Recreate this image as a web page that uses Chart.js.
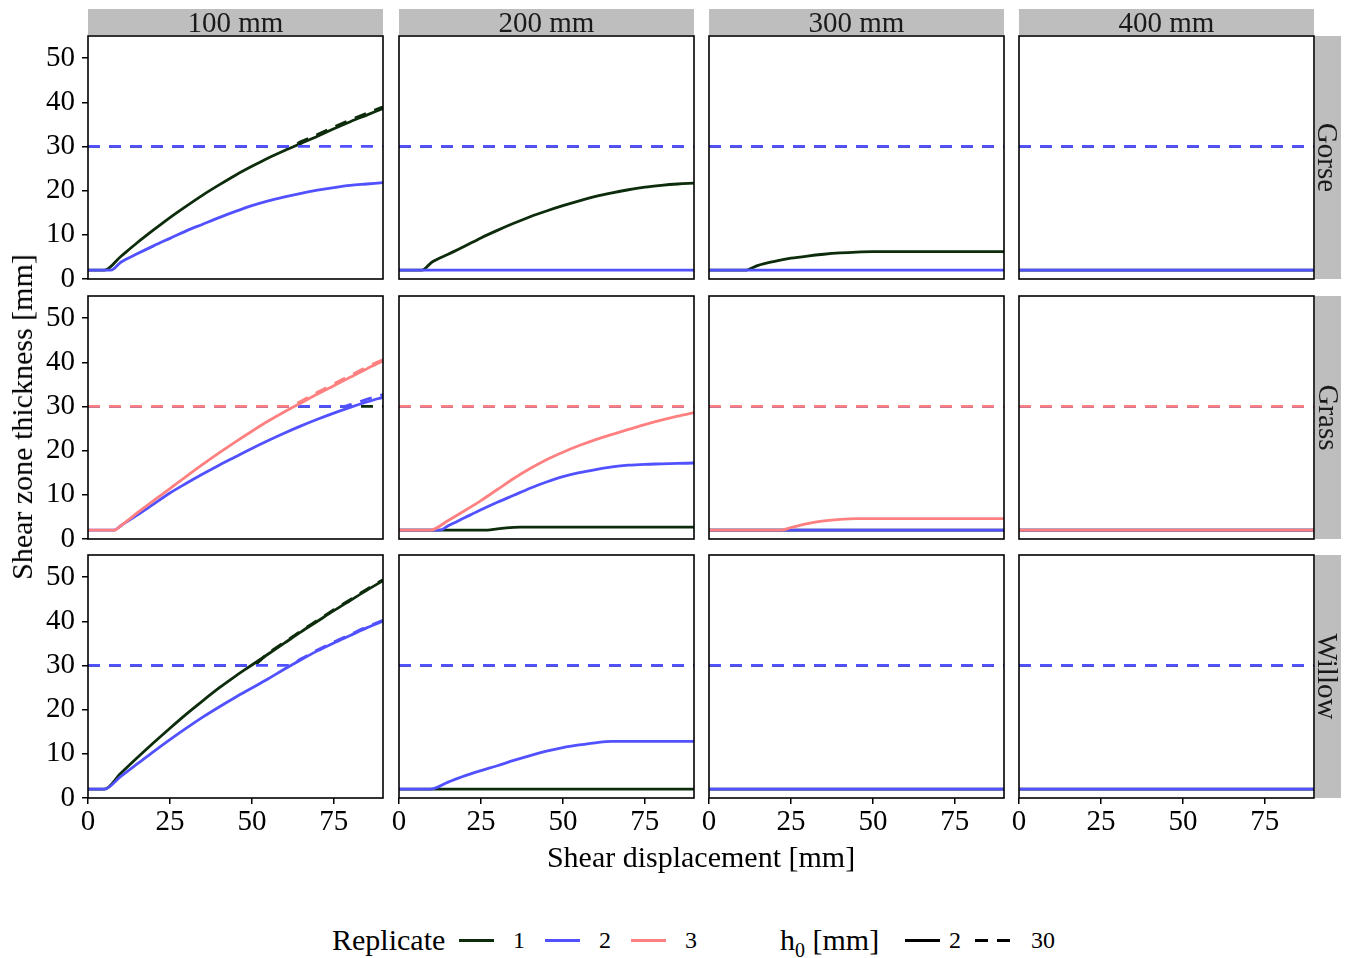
<!DOCTYPE html>
<html>
<head>
<meta charset="utf-8">
<script src="https://cdn.jsdelivr.net/npm/chart.js@4.4.1/dist/chart.umd.min.js"></script>
<style>
  body { margin: 0; background: #fff; font-family: 'Liberation Serif', 'DejaVu Serif', serif; }
  #wrap { position: relative; width: 1348px; height: 958px; overflow: hidden; }
  #wrap canvas { position: absolute; }
  .strip { position: absolute; background: #bebebe; color: #1a1a1a; font-size: 29px;
           display: flex; align-items: center; justify-content: center; white-space: nowrap; }
  .strip.side span { transform: rotate(90deg); display: block; }
  .title { position: absolute; font-size: 30px; color: #000; white-space: nowrap; }
  #legend { position: absolute; left: 0; top: 920px; width: 1348px; height: 40px; }
  #legend span { position: absolute; top: 0; height: 40px; line-height: 40px; white-space: nowrap; }
  #legend .key { top: 19px; height: 3px; width: 35px; }
</style>
</head>
<body>
<div id="wrap"></div>
<script>
// facets and ticks
const widthLabels = ['100 mm', '200 mm', '300 mm', '400 mm'];
const speciesLabels = ['Gorse', 'Grass', 'Willow'];
const xTicks = [0, 25, 50, 75];
const yTicks = [0, 10, 20, 30, 40, 50];
const replicates = ['1', '2', '3'];
const h0Levels = ['2', '30'];
const repColors = ['#0c2c0c', '#5151ff', '#ff8080'];

// [shear displacement, shear zone thickness]
const flat2 = [[0, 2], [90, 2]];
const flat30 = [[0, 30], [90, 30]];

// Gorse
const gorse100r1 = [[0,2],[5,2],[10,5.1],[15,8.2],[20,11.1],[25,13.9],[30,16.5],[35,19],[40,21.3],[45,23.5],[50,25.5],[55,27.4],[60,29.1],[65,30.7],[70,32.3],[75,34],[80,35.6],[85,37.1],[90,38.6]];
const gorse100r1h30 = [[0,30],[62,30],[65,31.1],[70,32.7],[75,34.4],[80,36],[85,37.5],[90,39]];
const gorse100r2 = [[0,2],[7,2],[10,3.8],[15,5.7],[20,7.5],[25,9.2],[30,10.9],[35,12.4],[40,13.9],[45,15.3],[50,16.6],[55,17.7],[60,18.6],[65,19.4],[70,20.1],[75,20.7],[80,21.2],[85,21.5],[90,21.8]];
const gorse200r1 = [[0,2],[7,2],[10,3.8],[15,5.6],[20,7.4],[25,9.3],[30,11],[35,12.6],[40,14.1],[45,15.4],[50,16.6],[55,17.7],[60,18.7],[65,19.5],[70,20.2],[75,20.8],[80,21.2],[85,21.5],[90,21.7]];
const gorse300r1 = [[0,2],[11,2],[15,3.1],[20,4],[25,4.7],[30,5.2],[35,5.6],[40,5.9],[45,6.1],[50,6.2],[90,6.2]];

// Grass
const grass100r2 = [[0,2],[8,2],[10,3],[15,5.4],[20,7.9],[25,10.4],[30,12.6],[35,14.7],[40,16.7],[45,18.6],[50,20.5],[55,22.3],[60,24],[65,25.6],[70,27.1],[75,28.5],[80,29.8],[85,31],[90,32.1]];
const grass100r2h30 = [[0,30],[78,30],[80,30.4],[85,31.6],[90,32.7]];
const grass100r3 = [[0,2],[8,2],[10,3],[15,5.9],[20,8.7],[25,11.4],[30,14.2],[35,16.9],[40,19.5],[45,22],[50,24.4],[55,26.7],[60,28.8],[65,30.8],[70,32.8],[75,34.7],[80,36.6],[85,38.5],[90,40.3]];
const grass100r3h30 = [[0,30],[61,30],[65,31.2],[70,33.2],[75,35.1],[80,37],[85,38.9],[90,40.6]];
const grass200r1 = [[0,2],[27,2],[30,2.3],[35,2.65],[37,2.7],[90,2.7]];
const grass200r2 = [[0,2],[12.5,2],[15,3],[20,4.8],[25,6.6],[30,8.3],[35,9.9],[40,11.5],[45,12.9],[50,14.1],[55,15],[60,15.7],[65,16.3],[70,16.7],[75,16.9],[80,17],[85,17.1],[90,17.2]];
const grass200r3 = [[0,2],[9.5,2],[15,4.2],[20,6.4],[25,8.7],[30,11.2],[35,13.7],[40,15.95],[45,17.95],[50,19.65],[55,21.15],[60,22.5],[65,23.7],[70,24.8],[75,25.9],[80,26.9],[85,27.8],[90,28.6]];
const grass300r3 = [[0,2],[22,2],[25,2.6],[30,3.5],[35,4.1],[40,4.45],[45,4.6],[90,4.6]];

// Willow
const willow100r1 = [[0,2],[5,2],[10,5.6],[15,9.1],[20,12.5],[25,15.8],[30,19],[35,22],[40,24.9],[45,27.6],[50,30.1],[55,32.6],[60,35.1],[65,37.6],[70,40],[75,42.4],[80,44.7],[85,47],[90,49.2]];
const willow100r1h30 = [[0,30],[50,30],[55,32.8],[60,35.3],[65,37.8],[70,40.2],[75,42.6],[80,44.9],[85,47.2],[90,49.4]];
const willow100r2 = [[0,2],[5,2],[10,4.9],[15,7.7],[20,10.5],[25,13.2],[30,15.8],[35,18.3],[40,20.6],[45,22.8],[50,24.9],[55,27],[60,29.2],[65,31.3],[70,33.3],[75,35.1],[80,36.8],[85,38.5],[90,40]];
const willow100r2h30 = [[0,30],[61,30],[65,31.5],[70,33.5],[75,35.3],[80,37],[85,38.7],[90,40.2]];
const willow200r2 = [[0,2],[9.5,2],[15,3.6],[20,5],[25,6.2],[30,7.3],[35,8.5],[40,9.6],[45,10.6],[50,11.4],[55,12],[60,12.5],[65,12.8],[90,12.8]];

// [replicate index, h0 index, data] per panel, rows = species, cols = width
const panels = [
  [
    [[0,0,gorse100r1],[0,1,gorse100r1h30],[1,0,gorse100r2],[1,1,flat30]],
    [[0,0,gorse200r1],[0,1,flat30],[1,0,flat2],[1,1,flat30]],
    [[0,0,gorse300r1],[0,1,flat30],[1,0,flat2],[1,1,flat30]],
    [[0,0,flat2],[0,1,flat30],[1,0,flat2],[1,1,flat30]]
  ],
  [
    [[0,1,flat30],[1,0,grass100r2],[1,1,grass100r2h30],[2,0,grass100r3],[2,1,grass100r3h30]],
    [[0,0,grass200r1],[0,1,flat30],[1,0,grass200r2],[1,1,flat30],[2,0,grass200r3],[2,1,flat30]],
    [[0,0,flat2],[0,1,flat30],[1,0,flat2],[1,1,flat30],[2,0,grass300r3],[2,1,flat30]],
    [[0,0,flat2],[0,1,flat30],[1,0,flat2],[1,1,flat30],[2,0,flat2],[2,1,flat30]]
  ],
  [
    [[0,0,willow100r1],[0,1,willow100r1h30],[1,0,willow100r2],[1,1,willow100r2h30]],
    [[0,0,flat2],[0,1,flat30],[1,0,willow200r2],[1,1,flat30]],
    [[0,0,flat2],[0,1,flat30],[1,0,flat2],[1,1,flat30]],
    [[0,0,flat2],[0,1,flat30],[1,0,flat2],[1,1,flat30]]
  ]
];

const FONT = "'Liberation Serif', 'DejaVu Serif', serif";
const W = 295, H = 243;
const colLeft = [88, 399, 709, 1019];
const rowTop = [36, 296, 555];
const wrap = document.getElementById('wrap');

const boxPlugin = {
  id: 'box',
  afterDatasetsDraw(chart) {
    const a = chart.chartArea, ctx = chart.ctx;
    ctx.save();
    ctx.strokeStyle = '#000';
    ctx.lineWidth = 1.6;
    ctx.strokeRect(a.left, a.top, a.right - a.left, a.bottom - a.top);
    ctx.restore();
  }
};

function axisOpts(show, min, max, ticks, pad, fit) {
  const o = {
    type: 'linear', min: min, max: max, display: show,
    afterBuildTicks: s => { s.ticks = ticks.map(v => ({ value: v })); },
    grid: { drawOnChartArea: false, drawTicks: true, tickLength: 6, color: '#000', lineWidth: 1.5 },
    border: { display: false },
    ticks: { font: { family: FONT, size: 29 }, color: '#000', padding: pad, maxRotation: 0, autoSkip: false }
  };
  if (show) o.afterFit = s => {
    fit(s);
    s.paddingTop = 0; s.paddingBottom = 0; s.paddingLeft = 0; s.paddingRight = 0;
  };
  return o;
}

function makePanel(r, c) {
  const showY = c === 0, showX = r === 2;
  const yW = 62, xH = 46;
  const padL = showY ? yW + 6 : 16, padR = 16, padT = 4, padB = showX ? xH + 4 : 20;
  const canvas = document.createElement('canvas');
  canvas.width = W + padL + padR;
  canvas.height = H + padT + padB;
  canvas.style.left = (colLeft[c] - padL) + 'px';
  canvas.style.top = (rowTop[r] - padT) + 'px';
  wrap.appendChild(canvas);

  const datasets = panels[r][c].map(([rep, h0, pts]) => ({
    label: 'Replicate ' + replicates[rep] + ', h0 ' + h0Levels[h0],
    data: pts.map(p => ({ x: p[0], y: p[1] })),
    borderColor: repColors[rep],
    borderWidth: 2.8,
    borderDash: h0 === 1 ? [12, 9] : [],
    pointRadius: 0,
    fill: false,
    cubicInterpolationMode: 'monotone',
    order: 3 - rep
  }));

  new Chart(canvas, {
    type: 'line',
    data: { datasets: datasets },
    plugins: [boxPlugin],
    options: {
      responsive: false,
      animation: false,
      devicePixelRatio: 1,
      layout: { autoPadding: false, padding: { left: showY ? padL - yW : padL, right: padR, top: padT, bottom: showX ? padB - xH : padB } },
      plugins: { legend: { display: false }, tooltip: { enabled: false } },
      scales: {
        x: axisOpts(showX, 0, 90, xTicks, 1, s => { s.height = xH; }),
        y: axisOpts(showY, 0, 55, yTicks, 7, s => { s.width = yW; })
      }
    }
  });
}

for (let r = 0; r < 3; r++) for (let c = 0; c < 4; c++) makePanel(r, c);

// strips
widthLabels.forEach((t, c) => {
  const d = document.createElement('div');
  d.className = 'strip';
  d.style.cssText = `left:${colLeft[c]}px;top:9px;width:${W}px;height:26px;`;
  d.textContent = t;
  wrap.appendChild(d);
});
speciesLabels.forEach((t, r) => {
  const d = document.createElement('div');
  d.className = 'strip side';
  d.style.cssText = `left:1315px;top:${rowTop[r]}px;width:26px;height:${H}px;`;
  d.innerHTML = '<span>' + t + '</span>';
  wrap.appendChild(d);
});

// axis titles
const xt = document.createElement('div');
xt.className = 'title';
xt.textContent = 'Shear displacement [mm]';
xt.style.cssText = 'left:701px;top:857px;transform:translate(-50%,-50%);';
wrap.appendChild(xt);
const yt = document.createElement('div');
yt.className = 'title';
yt.textContent = 'Shear zone thickness [mm]';
yt.style.cssText = 'left:22px;top:417px;transform:translate(-50%,-50%) rotate(-90deg);';
wrap.appendChild(yt);

// legend
const lg = document.createElement('div');
lg.id = 'legend';
let html = '<span style="left:332px;font-size:30px;">Replicate</span>';
const repKeyX = [459, 545, 631];
replicates.forEach((rp, i) => {
  html += `<span class="key" style="left:${repKeyX[i]}px;background:${repColors[i]};"></span>`;
  html += `<span style="left:${repKeyX[i] + 54}px;font-size:24px;">${rp}</span>`;
});
html += '<span style="left:780px;font-size:30px;">h<sub style="font-size:20px;">0</sub> [mm]</span>';
html += '<span class="key" style="left:905px;background:#000;"></span>';
html += `<span style="left:949px;font-size:24px;">${h0Levels[0]}</span>`;
html += '<span class="key" style="left:975px;background:repeating-linear-gradient(90deg,#000 0 13px,transparent 13px 22px);"></span>';
html += `<span style="left:1031px;font-size:24px;">${h0Levels[1]}</span>`;
lg.innerHTML = html;
wrap.appendChild(lg);
</script>
</body>
</html>
